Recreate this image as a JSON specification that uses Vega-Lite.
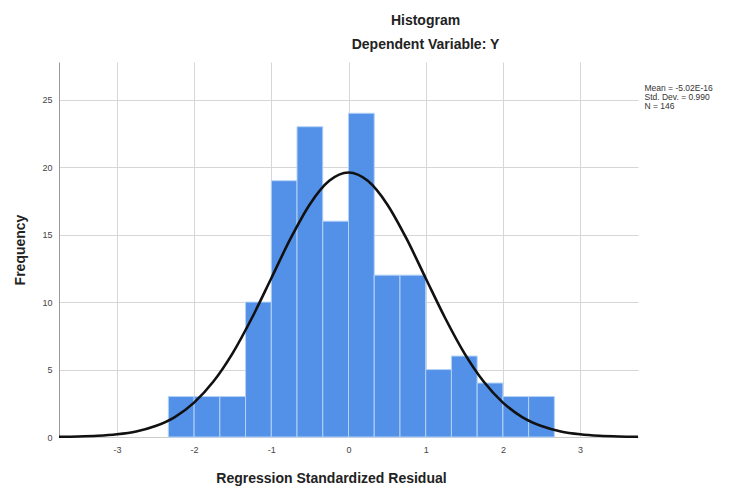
{
  "$schema": "https://vega.github.io/schema/vega-lite/v6.json",
  "width": 579,
  "height": 375,
  "autosize": "none",
  "padding": {"left": 59, "top": 62, "right": 92, "bottom": 51},
  "background": "white",
  "config": {
    "view": {"stroke": null},
    "font": "Liberation Sans"
  },
  "title": {
    "text": "Histogram",
    "subtitle": "Dependent Variable: Y",
    "anchor": "middle",
    "frame": "group",
    "dx": 77,
    "fontSize": 14,
    "subtitleFontSize": 14,
    "fontWeight": "bold",
    "subtitleFontWeight": "bold",
    "color": "#222222",
    "subtitleColor": "#222222",
    "font": "Liberation Sans",
    "subtitleFont": "Liberation Sans",
    "offset": 10,
    "subtitlePadding": 10
  },
  "layer": [
    {
      "data": {
        "values": [
          {"bin_start": -2.3333, "bin_end": -2.0, "count": 3},
          {"bin_start": -2.0, "bin_end": -1.6667, "count": 3},
          {"bin_start": -1.6667, "bin_end": -1.3333, "count": 3},
          {"bin_start": -1.3333, "bin_end": -1.0, "count": 10},
          {"bin_start": -1.0, "bin_end": -0.6667, "count": 19},
          {"bin_start": -0.6667, "bin_end": -0.3333, "count": 23},
          {"bin_start": -0.3333, "bin_end": 0.0, "count": 16},
          {"bin_start": 0.0, "bin_end": 0.3333, "count": 24},
          {"bin_start": 0.3333, "bin_end": 0.6667, "count": 12},
          {"bin_start": 0.6667, "bin_end": 1.0, "count": 12},
          {"bin_start": 1.0, "bin_end": 1.3333, "count": 5},
          {"bin_start": 1.3333, "bin_end": 1.6667, "count": 6},
          {"bin_start": 1.6667, "bin_end": 2.0, "count": 4},
          {"bin_start": 2.0, "bin_end": 2.3333, "count": 3},
          {"bin_start": 2.3333, "bin_end": 2.6667, "count": 3}
        ]
      },
      "mark": {"type": "rect", "color": "#5391e8", "stroke": "#b3d2f6", "strokeWidth": 1},
      "encoding": {
        "x": {
          "field": "bin_start",
          "type": "quantitative",
          "scale": {"domain": [-3.75, 3.75], "nice": false, "zero": false},
          "axis": {
            "values": [-3, -2, -1, 0, 1, 2, 3],
            "labelExpr": "'' + datum.value",
            "title": "Regression Standardized Residual",
            "titleFontSize": 14,
            "titleFontWeight": "bold",
            "titleColor": "#222222",
            "titlePadding": 17,
            "titleX": 272,
            "labelFontSize": 9,
            "labelColor": "#444444",
            "labelPadding": 8,
            "ticks": false,
            "domainColor": "#cccccc",
            "grid": true,
            "gridColor": "#d6d6d6"
          }
        },
        "x2": {"field": "bin_end"},
        "y": {
          "field": "count",
          "type": "quantitative",
          "scale": {"domain": [0, 27.8], "nice": false},
          "axis": {
            "values": [0, 5, 10, 15, 20, 25],
            "title": "Frequency",
            "titleFontSize": 14,
            "titleFontWeight": "bold",
            "titleColor": "#222222",
            "titlePadding": 14,
            "labelFontSize": 9,
            "labelColor": "#444444",
            "labelPadding": 7,
            "ticks": false,
            "domainColor": "#999999",
            "grid": true,
            "gridColor": "#d6d6d6"
          }
        },
        "y2": {"datum": 0}
      }
    },
    {
      "data": {
        "values": [
          {"x": -3.75, "f": 0.015},
          {"x": -3.5, "f": 0.038},
          {"x": -3.25, "f": 0.09},
          {"x": -3.0, "f": 0.2},
          {"x": -2.75, "f": 0.41},
          {"x": -2.5, "f": 0.81},
          {"x": -2.25, "f": 1.48},
          {"x": -2.0, "f": 2.55},
          {"x": -1.75, "f": 4.11},
          {"x": -1.5, "f": 6.22},
          {"x": -1.25, "f": 8.84},
          {"x": -1.0, "f": 11.77},
          {"x": -0.75, "f": 14.72},
          {"x": -0.5, "f": 17.26},
          {"x": -0.25, "f": 18.99},
          {"x": 0.0, "f": 19.61},
          {"x": 0.25, "f": 18.99},
          {"x": 0.5, "f": 17.26},
          {"x": 0.75, "f": 14.72},
          {"x": 1.0, "f": 11.77},
          {"x": 1.25, "f": 8.84},
          {"x": 1.5, "f": 6.22},
          {"x": 1.75, "f": 4.11},
          {"x": 2.0, "f": 2.55},
          {"x": 2.25, "f": 1.48},
          {"x": 2.5, "f": 0.81},
          {"x": 2.75, "f": 0.41},
          {"x": 3.0, "f": 0.2},
          {"x": 3.25, "f": 0.09},
          {"x": 3.5, "f": 0.038},
          {"x": 3.75, "f": 0.015}
        ]
      },
      "mark": {"type": "line", "color": "#111111", "strokeWidth": 2.6, "interpolate": "monotone"},
      "encoding": {
        "x": {"field": "x", "type": "quantitative"},
        "y": {"field": "f", "type": "quantitative"}
      }
    },
    {
      "data": {
        "values": [
          {"label": "Mean = -5.02E-16"},
          {"label": "Std. Dev. = 0.990"},
          {"label": "N = 146"}
        ]
      },
      "mark": {"type": "point", "opacity": 0},
      "encoding": {
        "color": {
          "field": "label",
          "type": "nominal",
          "scale": {
            "domain": ["Mean = -5.02E-16", "Std. Dev. = 0.990", "N = 146"],
            "range": ["#ffffff", "#ffffff", "#ffffff"]
          },
          "legend": {
            "title": null,
            "orient": "none",
            "legendX": 577,
            "legendY": 22,
            "symbolSize": 0,
            "symbolStrokeWidth": 0,
            "symbolOpacity": 0,
            "labelOffset": 0,
            "labelFontSize": 8.5,
            "labelColor": "#333333",
            "rowPadding": 0,
            "padding": 0
          }
        }
      }
    }
  ]
}
